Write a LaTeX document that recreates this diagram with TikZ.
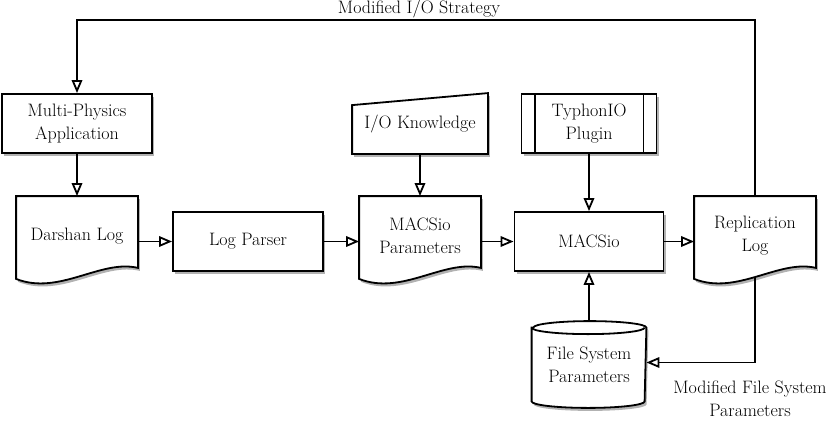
\documentclass[tikz,border=0pt]{standalone}
\usetikzlibrary{arrows.meta, shadows, backgrounds}

\begin{document}
\begin{tikzpicture}[x=1pt, y=-1pt, line width=1.8pt,
    every node/.style={font=\fontsize{18}{23}\selectfont, align=center},
    shade/.style={drop shadow={fill=black!30, opacity=1, shadow xshift=2pt, shadow yshift=-3pt}},
    box/.style={draw, fill=white, shade, line width=1.8pt, minimum width=150, minimum height=59},
    docbox/.style={minimum width=120, minimum height=78},
    outline/.style={draw, fill=white, shade, line width=1.8pt},
    diskcap/.style={x radius=56.5pt, y radius=6.5pt},
    arr/.style={line width=1.8pt, -{Triangle[open, length=13pt, width=10.5pt]}}]
    \useasboundingbox (0,0) rectangle (830,424);

    % inputs
    \node[box] (app) at (77,123.5) {Multi-Physics\\Application};
    \node[minimum width=134, minimum height=59] (know) at (420,123.5) {I/O Knowledge};
    \node[box, minimum width=135] (typh) at (589,123.5) {TyphonIO\\Plugin};
    \draw[line width=1.8pt] ([xshift=14pt]typh.north west) -- ([xshift=14pt]typh.south west);
    \draw[line width=1.8pt] ([xshift=-14pt]typh.north east) -- ([xshift=-14pt]typh.south east);

    % main chain
    \node[docbox] (darshan) at (77,236) {Darshan Log};
    \node[box] (parser) at (248,241.5) {Log Parser};
    \node[docbox] (params) at (420,236) {MACSio\\Parameters};
    \node[box, minimum width=149] (macsio) at (589,241.5) {MACSio};
    \node[docbox] (replog) at (755,236) {Replication\\Log};
    \node[minimum width=113, minimum height=85] (fsp) at (589,364.5) {File System\\Parameters};

    % document, manual input and disk outlines
    \begin{scope}[on background layer]
      \foreach \n in {darshan,params,replog}
        \path[outline] (\n.north west) -- (\n.north east) -- ([yshift=8pt]\n.south east)
          .. controls +(-37,-9) and +(43,17) .. ([yshift=-3pt]\n.south west) -- cycle;
      \path[outline] (know.south west) -- ([yshift=-12pt]know.north west)
        -- (know.north east) -- (know.south east) -- cycle;
      \path[outline] ([yshift=-6.5pt]fsp.north west) -- ([yshift=6.5pt]fsp.south west)
        arc[start angle=180, end angle=360, diskcap] -- ([yshift=-6.5pt]fsp.north east)
        arc[start angle=0, end angle=180, diskcap] -- cycle;
      \draw[line width=1.8pt] ([yshift=-6.5pt]fsp.north west) arc[start angle=180, end angle=360, diskcap];
    \end{scope}

    % arrows
    \draw[arr] (app) -- (darshan);
    \draw[arr] (darshan.east |- parser.west) -- (parser.west);
    \draw[arr] (parser.east) -- (params.west |- parser.east);
    \draw[arr] (know) -- (params);
    \draw[arr] (params.east |- macsio.west) -- (macsio.west);
    \draw[arr] (typh) -- (macsio);
    \draw[arr] (fsp) -- (macsio);
    \draw[arr] (macsio.east) -- (replog.west |- macsio.east);

    % feedback loops
    \coordinate (repbot) at (755,278);
    \draw[arr] (replog.north) -- ++(0,-176) -| (app.north);
    \draw[arr] (repbot) |- ([yshift=2pt]fsp.east);
    \node (strat) at (419,9) {Modified I/O Strategy};
    \node (modfs) at (750,398.5) {Modified File System\\Parameters};
\end{tikzpicture}
\end{document}
